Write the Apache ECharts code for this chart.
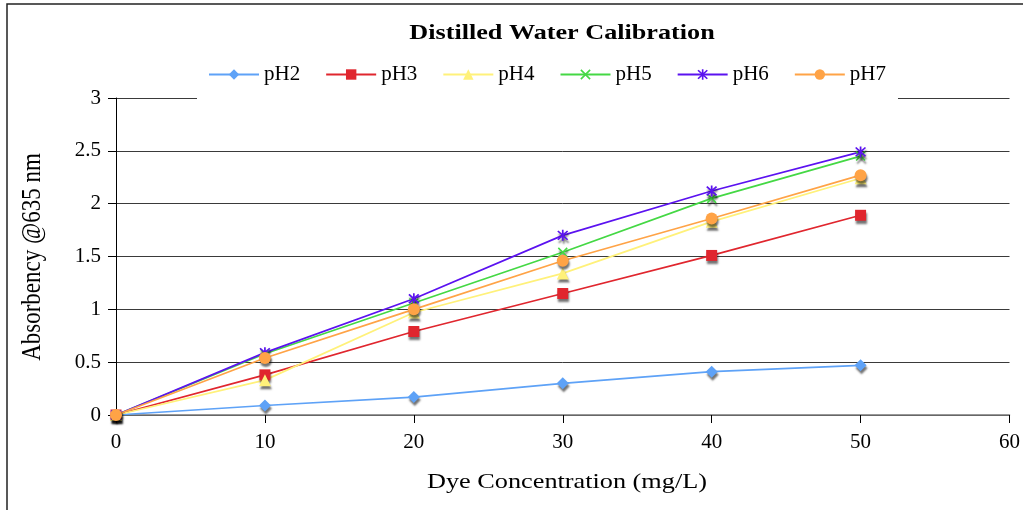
<!DOCTYPE html>
<html>
<head>
<meta charset="utf-8">
<script src="https://cdn.jsdelivr.net/npm/echarts@6/dist/echarts.min.js"></script>
<style>
  html, body { margin: 0; padding: 0; background: #fff; }
  #chart { width: 1023px; height: 510px; }
</style>
</head>
<body>
<div id="chart"></div>
<script>
// dye concentration (mg/L)
const concentration = [0, 10, 20, 30, 40, 50];

// absorbency @635 nm per pH
const pH2 = [0, 0.09, 0.17, 0.30, 0.41, 0.47];
const pH3 = [0, 0.38, 0.79, 1.15, 1.51, 1.89];
const pH4 = [0, 0.33, 0.97, 1.34, 1.83, 2.24];
const pH5 = [0, 0.58, 1.06, 1.54, 2.05, 2.45];
const pH6 = [0, 0.59, 1.10, 1.70, 2.12, 2.49];
const pH7 = [0, 0.54, 1.00, 1.46, 1.86, 2.27];

const crossPath = "path://M1.5,0.5L9.5,8.5L8.5,9.5L0.5,1.5ZM8.5,0.5L9.5,1.5L1.5,9.5L0.5,8.5Z";
const starPath = crossPath + "M4.3,0H5.7V10H4.3Z";

const seriesDefs = [
  { name: "pH2", data: pH2, color: "#5EA2F7", symbol: "diamond", size: 12 },
  { name: "pH3", data: pH3, color: "#E0262E", symbol: "rect", size: 11 },
  { name: "pH4", data: pH4, color: "#FFF17A", symbol: "triangle", size: 12 },
  { name: "pH5", data: pH5, color: "#44D844", symbol: crossPath, size: 10 },
  { name: "pH6", data: pH6, color: "#5B12F0", symbol: starPath, size: 11 },
  { name: "pH7", data: pH7, color: "#FFA346", symbol: "circle", size: 12 },
];

const font = "'Liberation Serif', 'Times New Roman', serif";
const chart = echarts.init(document.getElementById("chart"));

// the text in the original is drawn wide, so the big labels get a horizontal stretch
function stretchedText(text, x, y, size, weight, sx, sy, rot) {
  return {
    type: "text",
    x: x,
    y: y,
    scaleX: sx,
    scaleY: sy,
    rotation: rot || 0,
    silent: true,
    style: {
      text: text,
      font: weight + " " + size + "px " + font,
      fill: "#000",
      align: "center",
      verticalAlign: "middle",
      textAlign: "center",
      textVerticalAlign: "middle",
    },
  };
}

chart.setOption({
  animation: false,
  textStyle: { fontFamily: font },
  legend: {
    left: 197,
    top: 55,
    padding: [9, 12, 16, 11],
    backgroundColor: "#fff",
    itemWidth: 50,
    itemHeight: 13,
    itemGap: 25,
    textStyle: { fontFamily: font, fontSize: 21, color: "#000" },
    data: seriesDefs.map((s) => s.name),
  },
  graphic: [
    {
      type: "rect",
      shape: { x: 7, y: 4, width: 1040, height: 540 },
      style: { fill: "none", stroke: "#222", lineWidth: 1.5 },
      silent: true,
    },
    stretchedText("Distilled Water Calibration", 562, 33, 22, "bold", 1.19, 1, 0),
    stretchedText("Dye Concentration (mg/L)", 567, 482, 21, "normal", 1.25, 1, 0),
    stretchedText("Absorbency @635 nm", 33, 257, 23, "normal", 1, 1.2, Math.PI / 2),
  ],
  grid: { left: 116, right: 13, top: 98, bottom: 95 },
  xAxis: {
    type: "value",
    min: 0,
    max: 60,
    interval: 10,
    axisLine: { lineStyle: { color: "#777", width: 1.5 } },
    axisTick: { show: true, length: 8, lineStyle: { color: "#000" } },
    axisLabel: { fontFamily: font, fontSize: 21, color: "#000", margin: 17 },
    splitLine: { show: false },
  },
  yAxis: {
    type: "value",
    min: 0,
    max: 3,
    interval: 0.5,
    axisLine: { show: true, lineStyle: { color: "#000", width: 1 } },
    axisTick: { show: true, length: 8, lineStyle: { color: "#000" } },
    axisLabel: { fontFamily: font, fontSize: 21, color: "#000", margin: 15 },
    splitLine: { show: true, lineStyle: { color: "#3a3a3a", width: 1 } },
  },
  series: seriesDefs.map((s) => ({
    name: s.name,
    type: "line",
    data: concentration.map((c, i) => [c, s.data[i]]),
    symbol: s.symbol,
    symbolSize: s.size,
    showAllSymbol: true,
    lineStyle: { color: s.color, width: 1.7 },
    itemStyle: {
      color: s.color,
      shadowColor: "rgba(0,0,0,0.55)",
      shadowBlur: 2,
      shadowOffsetX: 1,
      shadowOffsetY: 3,
    },
    emphasis: { disabled: true },
  })),
});
</script>
</body>
</html>
